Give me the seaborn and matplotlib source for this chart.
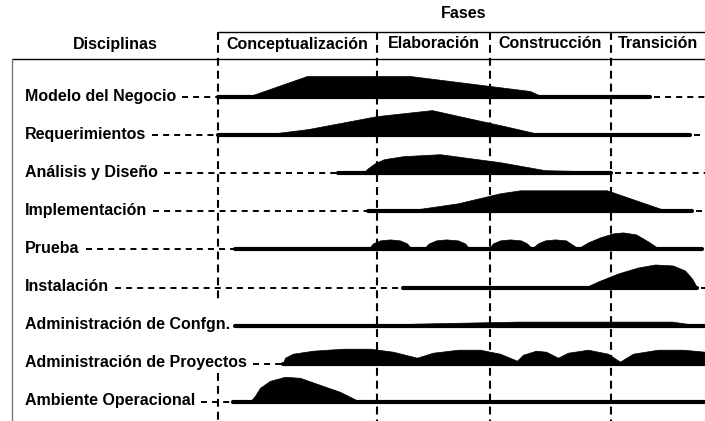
import numpy as np
import pandas as pd
import matplotlib
matplotlib.use('Agg')
import matplotlib.pyplot as plt
import seaborn as sns

# fases del proyecto y sus limites (tiempo del proyecto, 0 = inicio)
fases = ['Conceptualización', 'Elaboración', 'Construcción', 'Transición']
limites_fases = [0, 159, 272, 393, 487]

disciplinas = ['Modelo del Negocio', 'Requerimientos', 'Análisis y Diseño',
               'Implementación', 'Prueba', 'Instalación',
               'Administración de Confgn.', 'Administración de Proyectos',
               'Ambiente Operacional']

# tramo activo (linea solida) de cada disciplina
inicio_linea = [0, 0, 120, 150, 17, 185, 17, 65, 15]
fin_linea = [432, 472, 393, 474, 484, 479, 487, 487, 487]

# esfuerzo de cada disciplina: tiempo / altura
t_modelo = [29, 89, 192, 272, 312, 325]
h_modelo = [0, 21, 21, 11, 6, 0]

t_requer = [42, 90, 159, 214, 250, 282, 317, 357, 357]
h_requer = [0, 6, 19, 25, 17, 10, 2, 1.5, 0]

t_analisis = [145, 150, 157, 166, 185, 222, 282, 327, 393]
h_analisis = [0, 5, 10, 14, 17, 19, 11, 3, 1.5]

t_implem = [185, 240, 282, 302, 389, 450, 474]
h_implem = [0, 8, 18, 21, 21, 0, 0]

t_prueba = [150, 155, 162, 172, 182, 189, 194,
            205, 211, 218, 228, 240, 247, 252,
            270, 275, 282, 292, 303, 309, 314,
            320, 327, 337, 348, 354, 360,
            370, 382, 395, 405, 418, 430, 442]
h_prueba = [0, 6, 9, 10, 9, 6, 0,
            0, 6, 9, 10, 9, 6, 0,
            0, 6, 9, 10, 9, 6, 1,
            6, 9, 10, 9, 5, 1,
            7, 12, 16, 17, 15, 8, 0]

t_instal = [367, 380, 400, 420, 437, 455, 467, 474, 479]
h_instal = [0, 6, 14, 20, 23, 22, 17, 9, 0]

t_config = [137, 200, 300, 454, 482]
h_config = [0, 2, 4, 4, 0]

t_proyectos = [65, 67, 75, 95, 125, 152, 175, 199,
               215, 240, 262, 282, 299,
               305, 318, 328, 340,
               350, 370, 390, 402,
               415, 440, 465, 487]
h_proyectos = [0, 6, 10, 13, 15, 15, 12, 6,
               11, 14, 14, 10, 3,
               9, 13, 12, 6,
               11, 14, 10, 2,
               10, 14, 14, 12]

t_ambiente = [32, 37, 42, 52, 67, 82, 99, 122, 134, 142]
h_ambiente = [0, 6, 14, 21, 25, 24, 18, 10, 4, 0]

esfuerzo = {
    'Modelo del Negocio': (t_modelo, h_modelo),
    'Requerimientos': (t_requer, h_requer),
    'Análisis y Diseño': (t_analisis, h_analisis),
    'Implementación': (t_implem, h_implem),
    'Prueba': (t_prueba, h_prueba),
    'Instalación': (t_instal, h_instal),
    'Administración de Confgn.': (t_config, h_config),
    'Administración de Proyectos': (t_proyectos, h_proyectos),
    'Ambiente Operacional': (t_ambiente, h_ambiente),
}

sns.set_style('white')
plt.rcParams['font.family'] = ['Liberation Sans', 'DejaVu Sans']
plt.rcParams['text.color'] = 'black'

fig = plt.figure(figsize=(7.05, 4.21), dpi=100)
ax = fig.add_axes([0, 0, 1, 1])
ax.set_xlim(-218, 487)
ax.set_ylim(421, 0)
ax.axis('off')

# posicion vertical de cada fila
y_fila = 97 + 38.1 * np.arange(len(disciplinas))
paso = 38.1

# lineas base (tramo activo)
lineas = pd.DataFrame({
    'disciplina': np.repeat(disciplinas, 2),
    't': np.ravel(np.column_stack([inicio_linea, fin_linea])),
    'y': np.repeat(y_fila, 2),
})
sns.lineplot(data=lineas, x='t', y='y', hue='disciplina', units='disciplina',
             estimator=None, palette=['black'] * len(disciplinas),
             linewidth=3.0, legend=False, ax=ax, sort=False)

# jorobas de esfuerzo
for d, y0 in zip(disciplinas, y_fila):
    t, h = esfuerzo[d]
    t = np.array(t, float)
    h = np.array(h, float)
    ax.fill_between(t, y0, y0 - h, color='black', linewidth=0.5, edgecolor='black')

# encabezado
ax.plot([0, 487], [32, 32], color='black', lw=1.0)
ax.plot([-206, 487], [59, 59], color='black', lw=1.0)
ax.plot([-206, -206], [59, 421], color='#777777', lw=1.0)

ax.text(246, 14, 'Fases', ha='center', va='center', fontsize=11.5, fontweight='bold')
ax.text(-103, 44, 'Disciplinas', ha='center', va='center', fontsize=11.5, fontweight='bold')
for i, f in enumerate(fases):
    xc = (limites_fases[i] + limites_fases[i + 1]) / 2
    ax.text(xc, 44, f, ha='center', va='center', fontsize=11.5, fontweight='bold')

# etiquetas de disciplinas + lineas punteadas
fig.canvas.draw()
renderer = fig.canvas.get_renderer()
inv = ax.transData.inverted()
dash = (0, (3.1, 2.6))
huecos = []   # tramos de la primera linea de fase tapados por etiquetas largas
for d, y0, x0, x1 in zip(disciplinas, y_fila, inicio_linea, fin_linea):
    txt = ax.text(-193, y0 - 1, d, ha='left', va='center', fontsize=11.5, fontweight='bold')
    bb = txt.get_window_extent(renderer=renderer)
    x_fin_txt = inv.transform((bb.x1, 0))[0]
    if x_fin_txt > limites_fases[0] - 12:
        huecos.append((y0 - paso / 2 - 8, y0 + paso / 2 - 10))
    if x0 - x_fin_txt > 8:
        ax.plot([x_fin_txt + 6, x0], [y0, y0], color='black', lw=1.4, linestyle=dash)
    if 487 - x1 > 4:
        ax.plot([x1 + 4, 487], [y0, y0], color='black', lw=1.4, linestyle=dash)

# lineas verticales de fase
vdash = (0, (3.8, 2.4))
for xb in limites_fases[:-1]:
    tramos = [(32, 421)]
    if xb == limites_fases[0] and huecos:
        a = min(h[0] for h in huecos)
        b = max(h[1] for h in huecos)
        tramos = [(32, a), (b, 421)]
    for ya, yb in tramos:
        ax.plot([xb, xb], [ya, yb], color='black', lw=1.5, linestyle=vdash)

fig.savefig('out.png', dpi=100)
